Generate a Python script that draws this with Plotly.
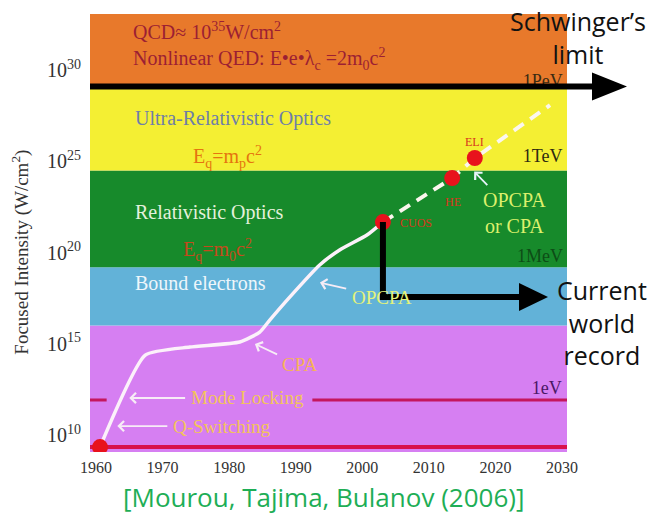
import plotly.graph_objects as go

# ---------------- data (intensity given as log10 of W/cm^2) ----------------
X0, X1 = 1959.1, 2030.75          # x-axis range (years)
Y0, Y1 = 9.07, 33.07              # y-axis range (log10 intensity)

band_edges = [Y0, 16.0, 19.2, 24.5, 29.0, Y1]
band_colors = ["#d67ff2", "#62b2d8", "#178a2b", "#f4ef33", "#e8792b"]

curve_years = [1960.6, 1967.4, 1974.1, 1981.6, 1984.6, 1986.1, 1989.1, 1993.6, 1996.6, 2000.7, 2003.1]
curve_exp = [9.34, 14.38, 14.82, 15.10, 15.64, 16.30, 17.56, 19.32, 20.14, 20.96, 21.67]

proj_years = [2003.1, 2013.5, 2016.9, 2028.2]
proj_exp = [21.67, 24.08, 25.18, 28.08]

dot_years = [1960.6, 2003.1, 2013.5, 2016.9]
dot_exp = [9.34, 21.67, 24.08, 25.18]

base_line_exp = 9.34
ev_line_exp = 11.92
ev_line_gap = [1961.6, 1992.5]

energy_labels = ["1PeV", "1TeV", "1MeV", "1eV"]
energy_years = [2027.1, 2027.1, 2026.7, 2027.7]
energy_exp = [29.3, 25.18, 19.75, 12.47]
energy_colors = ["#3a2a12", "#2e2a10", "#0d4d16", "#4a1766"]

x_ticks = [1960, 1970, 1980, 1990, 2000, 2010, 2020, 2030]
y_tick_exp = [10, 15, 20, 25, 30]
y_tick_text = ["10<sup>%d</sup>" % e for e in y_tick_exp]

schwinger_exp = 29.1
record_corner_exp = 17.56

SERIF = "Liberation Serif"
SANS = "Open Sans"

OFF = 8  # page body margin of the html page


def P(e):
    return float(10.0 ** e)


fig = go.Figure()

# background regime bands
for lo, hi, col in zip(band_edges[:-1], band_edges[1:], band_colors):
    fig.add_trace(go.Scatter(
        x=[X0, X1, X1, X0, X0],
        y=[P(lo), P(lo), P(hi), P(hi), P(lo)],
        fill="toself", fillcolor=col, mode="lines", line=dict(width=0),
        hoverinfo="skip"))

# horizontal red lines
fig.add_trace(go.Scatter(x=[X0, X1], y=[P(base_line_exp)] * 2, mode="lines",
                         line=dict(color="#d8124c", width=4), hoverinfo="skip"))
fig.add_trace(go.Scatter(x=[X0, ev_line_gap[0], None, ev_line_gap[1], X1],
                         y=[P(ev_line_exp)] * 2 + [None] + [P(ev_line_exp)] * 2,
                         mode="lines", line=dict(color="#c4175e", width=3), hoverinfo="skip"))

# intensity history curve
fig.add_trace(go.Scatter(x=curve_years, y=[P(e) for e in curve_exp], mode="lines",
                         line=dict(color="#fcf1fa", width=3.5, shape="spline", smoothing=0.5),
                         hoverinfo="skip"))
fig.add_trace(go.Scatter(x=proj_years, y=[P(e) for e in proj_exp], mode="lines",
                         line=dict(color="#fbf6ee", width=4, dash="12px,8px"),
                         hoverinfo="skip"))
fig.add_trace(go.Scatter(x=dot_years, y=[P(e) for e in dot_exp], mode="markers",
                         marker=dict(color="#e8121c", size=16, line=dict(width=0)),
                         hoverinfo="skip"))

# energy-scale labels
fig.add_trace(go.Scatter(x=energy_years, y=[P(e) for e in energy_exp], mode="text",
                         text=energy_labels,
                         textfont=dict(family=SERIF, size=18, color=energy_colors),
                         hoverinfo="skip"))

annotations = []


def txt(x, y, text, color, size=20, xanchor="center", family=SERIF, **kw):
    d = dict(x=x, y=y, xref="x", yref="y", text=text, showarrow=False,
             font=dict(family=family, size=size, color=color), xanchor=xanchor,
             yanchor="middle")
    d.update(kw)
    annotations.append(d)


def arrow_txt(x_tip, y_tip, x_txt, y_txt, text, color, size=20, arrowcolor="#f7ecf6"):
    annotations.append(dict(
        x=x_tip, y=y_tip, xref="x", yref="y", ax=x_txt, ay=y_txt, axref="x", ayref="y",
        text=text, showarrow=True, arrowhead=4, arrowsize=1.1, arrowwidth=1.8,
        arrowcolor=arrowcolor, standoff=2, startstandoff=4,
        font=dict(family=SERIF, size=size, color=color)))


# region labels
txt(1965.3, 32.14, "QCD\u2248 10<sup>35</sup>W/cm<sup>2</sup>", "#9c1f33", xanchor="left")
txt(1965.3, 30.62, "Nonlinear QED: E\u2022e\u2022\u03bb<sub>c</sub> =2m<sub>0</sub>c<sup>2</sup>",
    "#9c1f33", xanchor="left")
txt(1965.5, 27.37, "Ultra-Relativistic Optics", "#6e7ea8", xanchor="left")
txt(1979.8, 25.25, "E<sub>q</sub>=m<sub>p</sub>c<sup>2</sup>", "#e5740f")
txt(1965.5, 22.22, "Relativistic Optics", "#e4f1dc", xanchor="left")
txt(1978.2, 20.14, "E<sub>q</sub>=m<sub>0</sub>c<sup>2</sup>", "#c44a1c")
txt(1965.5, 18.33, "Bound electrons", "#eef6fb", xanchor="left")

# facility labels
txt(2016.9, 26.05, "ELI", "#d8361c", size=12)
txt(2013.6, 22.77, "HE", "#d8361c", size=12)
txt(2005.3, 21.6, "CUOS", "#d8361c", size=12, xanchor="left")

# technology arrows
arrow_txt(1993.35, 18.38, 2002.9, 17.56, "OPCPA", "#e4f27a", size=19)
arrow_txt(1983.6, 15.04, 1990.6, 13.84, "CPA", "#f6b257", size=19)
arrow_txt(1964.7, 12.03, 1982.7, 12.03, "Mode Locking", "#f3c35b", size=19)
arrow_txt(1962.9, 10.49, 1978.9, 10.49, "Q-Switching", "#f3c35b", size=19)
arrow_txt(2016.6, 24.52, 2022.9, 22.14, "OPCPA<br>or CPA", "#dcf06c", size=20,
          arrowcolor="#e8f4fa")

# axis title
annotations.append(dict(x=-0.145, y=0.457, xref="paper", yref="paper",
                        text="Focused Intensity (W/cm<sup>2</sup>)", textangle=-90,
                        showarrow=False, font=dict(family=SERIF, size=19, color="#333333"),
                        xanchor="center", yanchor="middle"))

# overlay texts (positions in page pixels, converted to plot-area fractions)
PW, PH = 477.0, 438.0


def xpx(px):
    return (px - 90) / PW


def ypx(py):
    return (452 - py) / PH


annotations.append(dict(x=xpx(578), y=ypx(37), xref="paper", yref="paper",
                        text="Schwinger\u2019s<br>limit", showarrow=False, borderpad=0,
                        font=dict(family=SANS, size=25, color="#111111"),
                        xanchor="center", yanchor="middle"))
annotations.append(dict(x=xpx(602), y=ypx(323), xref="paper", yref="paper",
                        text="Current<br>world<br>record", showarrow=False, borderpad=0,
                        font=dict(family=SANS, size=25, color="#111111"),
                        xanchor="center", yanchor="middle"))
annotations.append(dict(x=xpx(323), y=ypx(497), xref="paper", yref="paper",
                        text="[Mourou, Tajima, Bulanov (2006)]", showarrow=False,
                        font=dict(family=SANS, size=26, color="#1eae56"),
                        xanchor="center", yanchor="middle"))


def xp(year):
    return (year - X0) / (X1 - X0)


def yp(e):
    return (e - Y0) / (Y1 - Y0)


head_h = 14 / PH
shapes = []
# Schwinger's limit arrow
ys = yp(schwinger_exp)
shapes.append(dict(type="line", xref="paper", yref="paper", x0=0, x1=xpx(596), y0=ys, y1=ys,
                   line=dict(color="black", width=6), layer="above"))
shapes.append(dict(type="path", xref="paper", yref="paper",
                   path="M %f,%f L %f,%f L %f,%f Z" % (xpx(592), ys + head_h, xpx(627), ys,
                                                       xpx(592), ys - head_h),
                   fillcolor="black", line=dict(width=0), layer="above"))
# current world record bracket
xc = xp(proj_years[0])
yc_top = yp(proj_exp[0])
yc = yp(record_corner_exp)
shapes.append(dict(type="path", xref="paper", yref="paper",
                   path="M %f,%f L %f,%f L %f,%f" % (xc, yc_top, xc, yc, xpx(524), yc),
                   line=dict(color="black", width=6), layer="above"))
shapes.append(dict(type="path", xref="paper", yref="paper",
                   path="M %f,%f L %f,%f L %f,%f Z" % (xpx(519), yc + head_h, xpx(548), yc,
                                                       xpx(519), yc - head_h),
                   fillcolor="black", line=dict(width=0), layer="above"))

fig.update_layout(
    width=658 - OFF, height=518 - OFF,
    margin=dict(l=90 - OFF, r=91, t=14 - OFF, b=66, pad=0),
    paper_bgcolor="white", plot_bgcolor="white",
    showlegend=False, hovermode=False,
    annotations=annotations, shapes=shapes,
    xaxis=dict(range=[X0, X1], tickvals=x_ticks, showgrid=False, zeroline=False,
               showline=False, ticks="", ticklabelstandoff=4,
               tickfont=dict(family=SERIF, size=16, color="#333333")),
    yaxis=dict(type="log", range=[Y0, Y1], tickvals=[P(e) for e in y_tick_exp],
               ticktext=y_tick_text, showgrid=False, zeroline=False, showline=False,
               ticks="", ticklabelstandoff=8,
               tickfont=dict(family=SERIF, size=20, color="#333333")),
)

fig.write_html("out.html")
